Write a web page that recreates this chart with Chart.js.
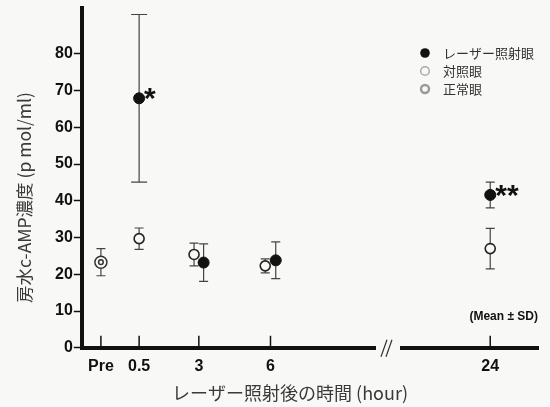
<!DOCTYPE html>
<html><head><meta charset="utf-8">
<script src="https://cdn.jsdelivr.net/npm/chart.js@4"></script>
<style>html,body{margin:0;padding:0;background:#f8f8f6;}#wrap{width:550px;height:407px;}</style>
</head><body><div id="wrap"><canvas id="c" width="550" height="407"></canvas></div>
<script>
// ---- data ----
const categories = ['Pre', '0.5', '3', '6', '24'];
// tick positions on the (broken) time axis
const axisPos = [-1.1, 0.5, 3, 6, 15.2];
const laserMean   = [null, 67.9, 23.2, 23.8, 41.6];
const laserSD     = [null, 22.8, 5.1, 5.0, 3.5];
const controlMean = [null, 29.7, 25.4, 22.3, 27.0];
const controlSD   = [null, 2.9, 3.1, 1.9, 5.5];
const normalMean  = [23.3, null, null, null, null];
const normalSD    = [3.7, null, null, null, null];
const yTicks = [0, 10, 20, 30, 40, 50, 60, 70, 80];
const seriesNames = ['レーザー照射眼', '対照眼', '正常眼'];
const significance = [null, '*', null, null, '**'];
const xTitle = 'レーザー照射後の時間 (hour)';
const yTitle = '房水c-AMP濃度 (p mol/ml)';

// ---- style ----
const DODGE = [0, 0, 0.2, 0.22, 0]; // horizontal offset (axis units) between eye groups
const BG = '#f8f8f6';
const FONT = '"Liberation Sans", Arial, sans-serif';
const JFONT = '"Noto Sans CJK JP", sans-serif';

function pts(mean, sd, sign) {
  const out = [];
  mean.forEach((m, i) => { if (m !== null) out.push({x: axisPos[i] + sign * DODGE[i], y: m, sd: sd[i], idx: i}); });
  return out;
}

const datasets = [
  {label: seriesNames[0], data: pts(laserMean, laserSD, 1), pointRadius: 5.5, backgroundColor: '#111', borderColor: '#111', borderWidth: 1, kind: 'laser'},
  {label: seriesNames[1], data: pts(controlMean, controlSD, -1), pointRadius: 5, backgroundColor: BG, borderColor: '#222', borderWidth: 1.6, kind: 'control'},
  {label: seriesNames[2], data: pts(normalMean, normalSD, 0), pointRadius: 6, backgroundColor: BG, borderColor: '#333', borderWidth: 1.5, kind: 'normal'}
];

const errorBars = {
  id: 'errorBars',
  beforeDatasetsDraw(chart) {
    const ctx = chart.ctx, xs = chart.scales.x, ys = chart.scales.y;
    ctx.save();
    ctx.strokeStyle = '#444'; ctx.lineWidth = 1.2;
    chart.data.datasets.forEach(ds => {
      ds.data.forEach(p => {
        const px = xs.getPixelForValue(p.x);
        const top = ys.getPixelForValue(p.y + p.sd), bot = ys.getPixelForValue(p.y - p.sd);
        const cap = (ds.kind === 'laser' && p.idx === 1) ? 8 : 4.5;
        ctx.beginPath();
        ctx.moveTo(px, top); ctx.lineTo(px, bot);
        ctx.moveTo(px - cap, top); ctx.lineTo(px + cap, top);
        ctx.moveTo(px - cap, bot); ctx.lineTo(px + cap, bot);
        ctx.stroke();
      });
    });
    ctx.restore();
  },
  afterDatasetsDraw(chart) {
    const ctx = chart.ctx, xs = chart.scales.x, ys = chart.scales.y;
    ctx.save();
    // inner ring for normal eye
    chart.data.datasets.forEach(ds => {
      if (ds.kind !== 'normal') return;
      ds.data.forEach(p => {
        ctx.beginPath(); ctx.lineWidth = 1.5; ctx.strokeStyle = '#333';
        ctx.arc(xs.getPixelForValue(p.x), ys.getPixelForValue(p.y), 2.3, 0, Math.PI * 2); ctx.stroke();
      });
    });
    // significance marks
    ctx.fillStyle = '#111'; ctx.font = 'bold 30px ' + FONT; ctx.textAlign = 'left'; ctx.textBaseline = 'alphabetic';
    significance.forEach((s, i) => {
      if (!s) return;
      const px = xs.getPixelForValue(axisPos[i] + DODGE[i]);
      const py = ys.getPixelForValue(laserMean[i]);
      ctx.fillText(s, px + 5, py + 10);
    });
    ctx.restore();
  },
  afterDraw(chart) {
    const ctx = chart.ctx, xs = chart.scales.x, ys = chart.scales.y, ca = chart.chartArea;
    ctx.save();
    // upward x ticks
    ctx.strokeStyle = '#111'; ctx.lineWidth = 1.5;
    axisPos.forEach(v => {
      const px = xs.getPixelForValue(v);
      ctx.beginPath(); ctx.moveTo(px, ca.bottom); ctx.lineTo(px, ca.bottom - 12); ctx.stroke();
    });
    // axis break
    const b0 = 376, b1 = 400;
    ctx.fillStyle = BG; ctx.fillRect(b0, ca.bottom - 4, b1 - b0, 8);
    ctx.strokeStyle = '#333'; ctx.lineWidth = 1.2;
    [381, 386].forEach(x => {
      ctx.beginPath(); ctx.moveTo(x, ca.bottom + 9); ctx.lineTo(x + 6, ca.bottom - 8); ctx.stroke();
    });
    // (Mean ± SD)
    ctx.fillStyle = '#111'; ctx.font = 'bold 12px ' + FONT; ctx.textAlign = 'right'; ctx.textBaseline = 'middle';
    ctx.fillText('(Mean ± SD)', 538, 317);
    // legend
    const lx = 425, ly = [53, 71, 89];
    ctx.beginPath(); ctx.fillStyle = '#111'; ctx.arc(lx, ly[0], 4.8, 0, Math.PI * 2); ctx.fill();
    ctx.beginPath(); ctx.strokeStyle = '#aaa'; ctx.lineWidth = 1.5; ctx.arc(lx, ly[1], 4.3, 0, Math.PI * 2); ctx.stroke();
    ctx.beginPath(); ctx.strokeStyle = '#999'; ctx.lineWidth = 2.4; ctx.arc(lx, ly[2], 4.0, 0, Math.PI * 2); ctx.stroke();
    ctx.fillStyle = '#333'; ctx.font = '13px ' + JFONT; ctx.textAlign = 'left'; ctx.textBaseline = 'middle';
    seriesNames.forEach((n, i) => ctx.fillText(n, 443, ly[i]));
    // axis titles
    ctx.fillStyle = '#3a3a3a'; ctx.textAlign = 'center'; ctx.textBaseline = 'middle';
    ctx.font = '18px ' + JFONT;
    ctx.fillText(xTitle, 290, 393);
    ctx.translate(24, 197.5); ctx.rotate(-Math.PI / 2);
    ctx.font = '17.5px ' + JFONT;
    ctx.fillText(yTitle, 0, 0);
    ctx.restore();
  }
};

const bgPlugin = {
  id: 'bg',
  beforeDraw(chart) { const c = chart.ctx; c.save(); c.fillStyle = BG; c.fillRect(0, 0, chart.width, chart.height); c.restore(); }
};

new Chart(document.getElementById('c'), {
  type: 'scatter',
  data: {datasets},
  options: {
    responsive: false, animation: false, devicePixelRatio: 1,
    layout: {padding: {top: 3, right: 12, bottom: 22, left: 54}},
    plugins: {legend: {display: false}, tooltip: {enabled: false}},
    scales: {
      x: {
        type: 'linear', min: -1.9, max: 17.2,
        afterBuildTicks(s) { s.ticks = axisPos.map(v => ({value: v})); },
        ticks: {callback: (v, i) => categories[i], color: '#111', font: {family: FONT, size: 16, weight: 'bold'}, padding: 9, maxRotation: 0, autoSkip: false},
        grid: {display: false, drawTicks: false},
        border: {display: true, color: '#111', width: 4}
      },
      y: {
        type: 'linear', min: 0, max: 92.6,
        afterBuildTicks(s) { s.ticks = yTicks.map(v => ({value: v})); },
        ticks: {color: '#111', font: {family: FONT, size: 16, weight: 'bold', lineHeight: 0.4}, padding: 1},
        grid: {drawOnChartArea: false, drawTicks: true, tickLength: 8, tickWidth: 1.5, tickColor: '#111'},
        border: {display: true, color: '#111', width: 4}
      }
    }
  },
  plugins: [bgPlugin, errorBars]
});
</script></body></html>
